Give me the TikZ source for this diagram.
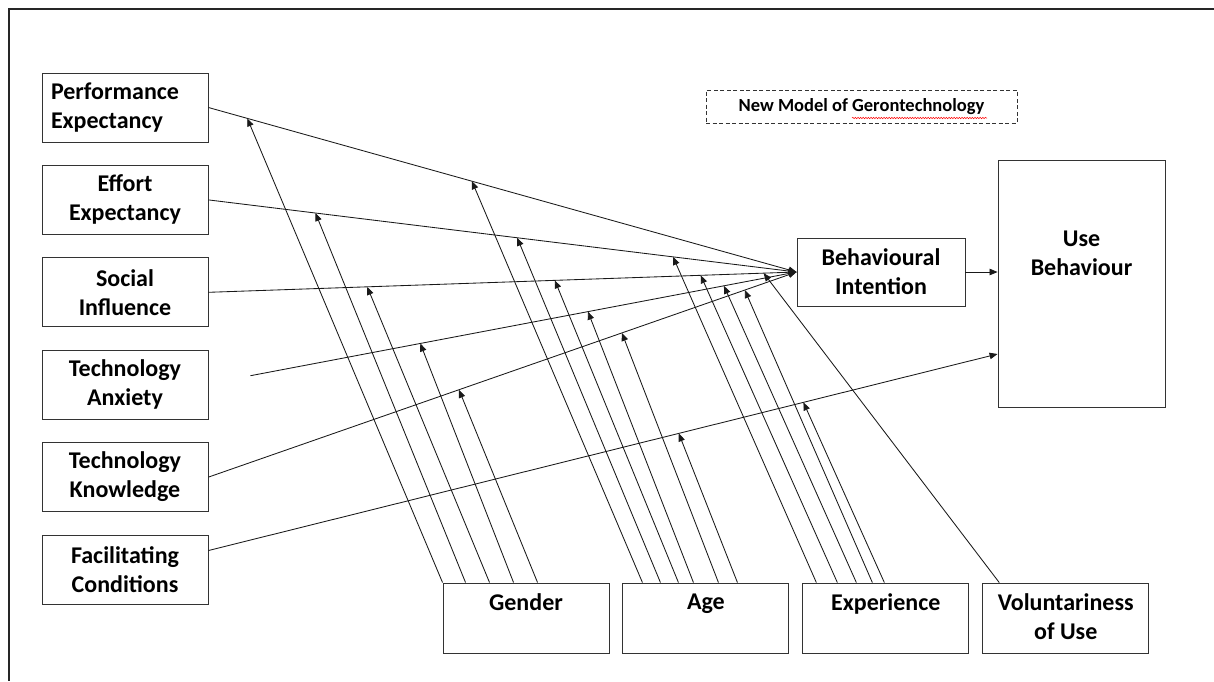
\documentclass[tikz,border=0pt]{standalone}
\usepackage{fontspec}
\setmainfont{Carlito}
\usetikzlibrary{positioning,calc,arrows.meta,decorations.pathmorphing}

\tikzset{
	box/.style={draw=black!80, line width=0.9pt, minimum width=166pt, minimum height=69pt,
		inner sep=0pt, align=center, font=\fontsize{24}{29}\selectfont\bfseries},
	lbl/.style={inner sep=0pt, align=center, font=\fontsize{24}{29}\selectfont\bfseries},
	flow/.style={draw=black!90, line width=0.85pt, -{Triangle[length=8pt,width=6.5pt]}},
	titlebox/.style={draw=black!80, line width=0.9pt, dash pattern=on 4pt off 2.5pt,
		minimum width=311pt, minimum height=33pt, inner sep=0pt,
		font=\fontsize{18.5}{22}\selectfont\bfseries},
}

\begin{document}
\begin{tikzpicture}[x=1pt, y=-1pt]
\useasboundingbox (0,0) rectangle (1214,681);
% outer frame
\draw[black!85, line width=2pt] (1214,8.5) -- (9,8.5) -- (9,681);

% determinants
\node [box, text width=148pt, align=left] (pe) at (125,107.5) {Performance\\Expectancy};
\node [box, below=22.5pt of pe] (ee) {Effort\\Expectancy};
\node [box, below=22.5pt of ee] (si) {Social\\Influence};
\node [box, below=22.5pt of si] (ta) {Technology\\Anxiety};
\node [box, below=22.5pt of ta] (tk) {Technology\\Knowledge};
\node [box, below=22.5pt of tk] (fc) {Facilitating\\Conditions};

% intention and use
\node [box, minimum width=168pt, minimum height=68pt] (bi) at (881,272) {Behavioural\\Intention};
\node [box, minimum width=167pt, minimum height=247pt] (ub) at (1081.5,283.5) {};
\node [lbl, anchor=north] (ubtxt) at ($(ub.north)+(0,71.5)$) {Use\\Behaviour};

% title
\node [titlebox] (title) at (861.5,106.5) {New Model of Gerontechnology};
\draw [red, line width=0.5pt, decorate, decoration={snake, amplitude=0.7pt, segment length=2.6pt}]
	(852,118) -- (987,118);

% moderators
\node [box, minimum height=70pt] (gender) at (526,618) {};
\node [box, minimum height=70pt, right=13pt of gender] (age) {};
\node [box, minimum height=70pt, right=13pt of age] (exp) {};
\node [box, minimum height=70pt, right=13pt of exp] (vol) {};
\node [lbl, anchor=north] (gendertxt) at ($(gender.north)+(0,11)$) {Gender};
\node [lbl, anchor=north] (agetxt) at ($(age.north)+(0,11)$) {Age};
\node [lbl, anchor=north] (exptxt) at ($(exp.north)+(0,11)$) {Experience};
\node [lbl, anchor=north] (voltxt) at ($(vol.north)+(0,11)$) {Voluntariness\\of Use};

% main paths
\coordinate (ta-out) at ($(ta.east)+(42,-9)$);
\coordinate (fc-out) at ($(fc.east)+(0,-19)$);
\coordinate (ub-in) at ($(ub.west)+(0,70.5)$);
\draw [flow] (pe.east) -- (bi.west);
\draw [flow] (ee.east) -- (bi.west);
\draw [flow] (si.east) -- (bi.west);
\draw [flow] (ta-out) -- (bi.west);
\draw [flow] (tk.east) -- (bi.west);
\draw [flow] (fc-out) -- (ub-in);
\draw [flow] (bi.east) -- (bi.east -| ub.west);

% points where the moderators meet the paths
\path (pe.east) -- (bi.west) coordinate[pos=.066] (pe-g) coordinate[pos=.448] (pe-a);
\path (ee.east) -- (bi.west) coordinate[pos=.182] (ee-g) coordinate[pos=.525] (ee-a) coordinate[pos=.79] (ee-e);
\path (si.east) -- (bi.west) coordinate[pos=.27] (si-g) coordinate[pos=.589] (si-a) coordinate[pos=.837] (si-e) coordinate[pos=.944] (si-v);
\path (ta-out) -- (bi.west) coordinate[pos=.311] (ta-g) coordinate[pos=.618] (ta-a) coordinate[pos=.867] (ta-e);
\path (tk.east) -- (bi.west) coordinate[pos=.426] (tk-g) coordinate[pos=.703] (tk-a) coordinate[pos=.912] (tk-e);
\path (fc-out) -- (ub-in) coordinate[pos=.596] (fc-a) coordinate[pos=.754] (fc-e);

\foreach \dx/\tip in {0/pe-g, 23/ee-g, 47/si-g, 71/ta-g, 95/tk-g}
	\draw [flow] ($(gender.north west)+(\dx,0)$) -- (\tip);
\foreach \dx/\tip in {20/pe-a, 38/ee-a, 56/si-a, 71/ta-a, 96/tk-a, 115/fc-a}
	\draw [flow] ($(age.north west)+(\dx,0)$) -- (\tip);
\foreach \dx/\tip in {14/ee-e, 35/si-e, 54/ta-e, 70/tk-e, 82/fc-e}
	\draw [flow] ($(exp.north west)+(\dx,0)$) -- (\tip);
\draw [flow] ($(vol.north west)+(17,0)$) -- (si-v);
\end{tikzpicture}
\end{document}
